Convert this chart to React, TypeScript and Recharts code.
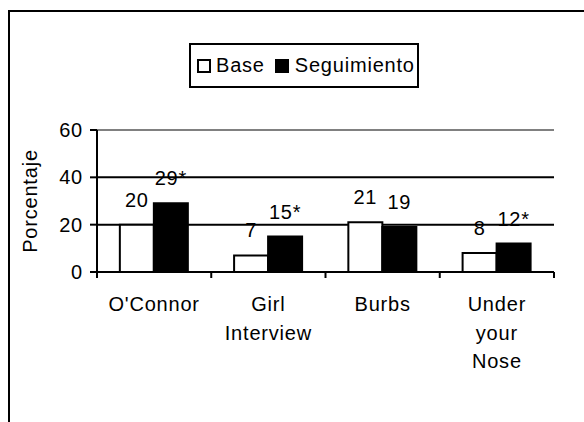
import React from 'react'
import { BarChart, Bar, XAxis, YAxis, CartesianGrid, Legend, LabelList, ReferenceLine } from 'recharts'

const categories = ["O'Connor", 'Girl Interview', 'Burbs', 'Under your Nose']
const baseValues = [20, 7, 21, 8]
const followUpValues = [29, 15, 19, 12]
const followUpSignificant = [true, true, false, true]
const yTicks = [0, 20, 40, 60]
const seriesNames = ['Base', 'Seguimiento']

const FONT = 'Arial, "Liberation Sans", sans-serif'
const SPACING = 0.8
const CHART_W = 576
const CHART_H = 414
const MARGIN = { top: 122, right: 30, bottom: 30, left: 12 }
const Y_AXIS_W = 77
const PLOT_W = CHART_W - MARGIN.left - MARGIN.right - Y_AXIS_W
const BAND = PLOT_W / categories.length

const textStyle = { fill: '#000', fontSize: 20, fontFamily: FONT, letterSpacing: SPACING }

const data = categories.map((name, i) => ({
  name,
  base: baseValues[i],
  followUp: followUpValues[i],
  followUpLabel: `${followUpValues[i]}${followUpSignificant[i] ? '*' : ''}`,
}))

// category label split one word per line, with tick marks on the band edges
function CategoryTick(props: any) {
  const { x, y, payload, index } = props
  const words = String(payload.value).split(' ')
  const left = x - BAND / 2
  return (
    <g>
      <line x1={left} y1={y} x2={left} y2={y + 6} stroke="#000" strokeWidth={2} />
      {index === categories.length - 1 && (
        <line x1={x + BAND / 2} y1={y} x2={x + BAND / 2} y2={y + 6} stroke="#000" strokeWidth={2} />
      )}
      <text x={x} y={y + 39} textAnchor="middle" style={textStyle}>
        {words.map((w, i) => (
          <tspan key={w} x={x} dy={i === 0 ? 0 : 28.5}>
            {w}
          </tspan>
        ))}
      </text>
    </g>
  )
}

function LegendBox() {
  const swatch = (fill: string) => ({
    width: 14,
    height: 14,
    boxSizing: 'border-box' as const,
    border: '2px solid #000',
    background: fill,
  })
  return (
    <div
      style={{
        boxSizing: 'border-box',
        width: 230,
        height: 45,
        border: '2px solid #000',
        background: '#fff',
        display: 'flex',
        alignItems: 'center',
        paddingLeft: 6,
        fontFamily: FONT,
        fontSize: 20,
        letterSpacing: SPACING,
        color: '#000',
        whiteSpace: 'nowrap',
      }}
    >
      <span style={swatch('#fff')} />
      <span style={{ marginLeft: 5, marginRight: 10 }}>{seriesNames[0]}</span>
      <span style={swatch('#000')} />
      <span style={{ marginLeft: 6 }}>{seriesNames[1]}</span>
    </div>
  )
}

export default function App() {
  return (
    <div style={{ position: 'absolute', left: 0, top: 0, width: 584, height: 422, overflow: 'hidden', background: '#fff' }}>
      <div
        style={{
          position: 'absolute',
          left: 8,
          top: 10,
          width: 700,
          height: 700,
          border: '2px solid #000',
        }}
      />
      <BarChart
        width={CHART_W}
        height={CHART_H}
        data={data}
        margin={MARGIN}
        barCategoryGap="20%"
        barGap={0}
        style={{ position: 'absolute', left: 8, top: 8 }}
      >
        <CartesianGrid vertical={false} horizontalValues={[20, 40]} stroke="#000" strokeWidth={2} />
        <XAxis
          dataKey="name"
          height={120}
          tickSize={0}
          tickMargin={0}
          tickLine={false}
          axisLine={{ stroke: '#000', strokeWidth: 2 }}
          tick={<CategoryTick />}
          interval={0}
        />
        <YAxis
          width={Y_AXIS_W}
          domain={[0, 60]}
          ticks={yTicks}
          tickSize={7}
          tickMargin={7}
          tickLine={{ stroke: '#000', strokeWidth: 2 }}
          axisLine={{ stroke: '#000', strokeWidth: 2 }}
          tick={textStyle}
          label={{
            value: 'Porcentaje',
            angle: -90,
            position: 'insideLeft',
            offset: 10,
            style: { ...textStyle, textAnchor: 'middle' },
          }}
        />
        <YAxis
          yAxisId="frame"
          orientation="right"
          width={0}
          domain={[0, 60]}
          tick={false}
          tickLine={false}
          axisLine={{ stroke: '#808080', strokeWidth: 2 }}
        />
        <ReferenceLine y={60} stroke="#808080" strokeWidth={2} />
        <Legend
          layout="horizontal"
          verticalAlign="middle"
          align="center"
          content={<LegendBox />}
          wrapperStyle={{ left: 181, top: 35, width: 230, height: 45 }}
        />
        <Bar dataKey="base" name={seriesNames[0]} fill="#fff" stroke="#000" strokeWidth={2} isAnimationActive={false}>
          <LabelList dataKey="base" position="top" offset={18} style={textStyle} />
        </Bar>
        <Bar dataKey="followUp" name={seriesNames[1]} fill="#000" stroke="#000" strokeWidth={2} isAnimationActive={false}>
          <LabelList dataKey="followUpLabel" position="top" offset={18} style={textStyle} />
        </Bar>
      </BarChart>
    </div>
  )
}
